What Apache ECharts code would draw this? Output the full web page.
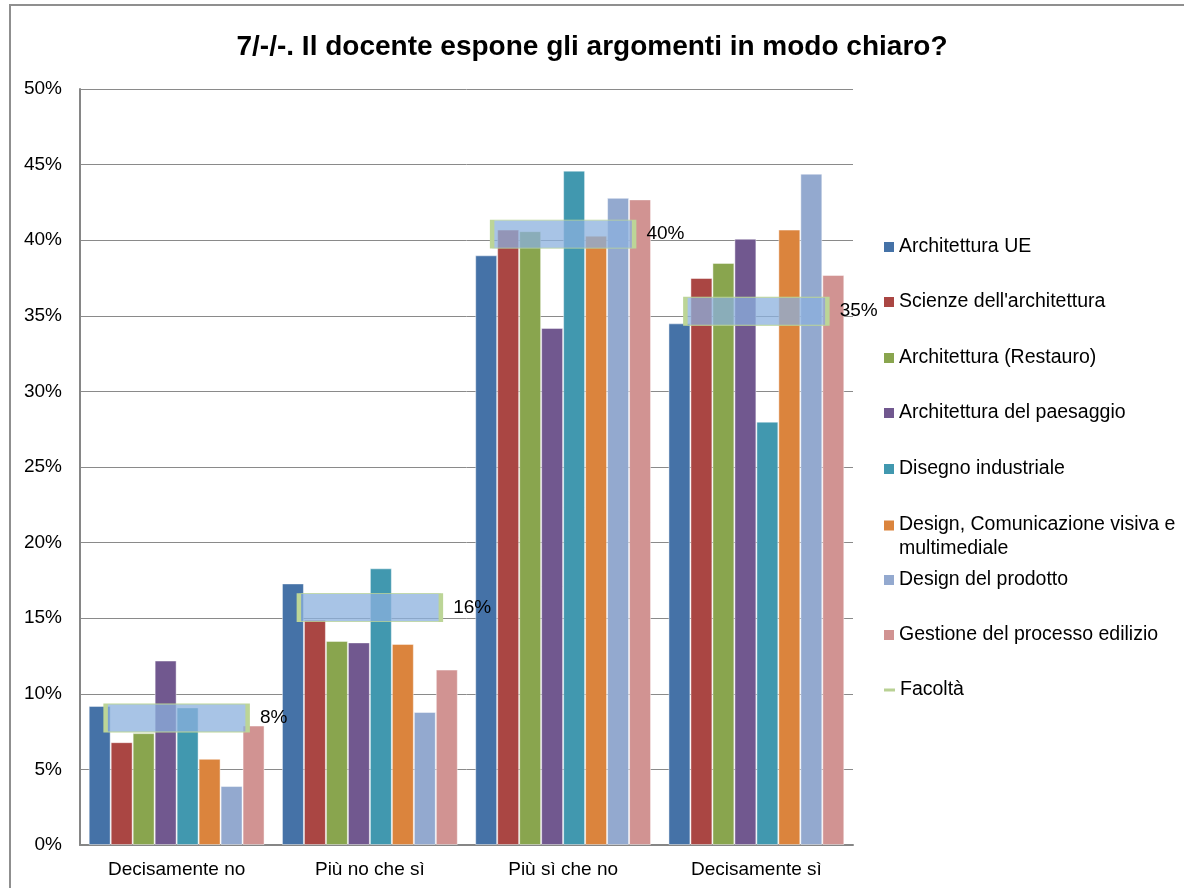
<!DOCTYPE html>
<html>
<head>
<meta charset="utf-8">
<script src="https://cdn.jsdelivr.net/npm/echarts@6/dist/echarts.min.js"></script>
<style>
  html, body { margin: 0; padding: 0; background: #fff; }
  #chart { width: 1184px; height: 888px; }
</style>
</head>
<body>
<div id="chart"></div>
<script>
const categories = ['Decisamente no', 'Più no che sì', 'Più sì che no', 'Decisamente sì']

const seriesNames = [
    'Architettura UE',
    "Scienze dell'architettura",
    'Architettura (Restauro)',
    'Architettura del paesaggio',
    'Disegno industriale',
    'Design, Comunicazione visiva e multimediale',
    'Design del prodotto',
    'Gestione del processo edilizio',
]
const seriesColors = ['#4572A7', '#AA4643', '#89A54E', '#71588F', '#4198AF', '#DB843D', '#93A9CF', '#D19392']

// percent values
const architetturaUE = [9.2, 17.3, 39.0, 34.5]
const scienzeArchitettura = [6.8, 14.9, 40.7, 37.5]
const architetturaRestauro = [7.4, 13.5, 40.6, 38.5]
const architetturaPaesaggio = [12.2, 13.4, 34.2, 40.1]
const disegnoIndustriale = [9.1, 18.3, 44.6, 28.0]
const designComunicazione = [5.7, 13.3, 40.3, 40.7]
const designProdotto = [3.9, 8.8, 42.8, 44.4]
const gestioneProcesso = [7.9, 11.6, 42.7, 37.7]

const facolta = [8.4, 15.7, 40.4, 35.3]

const allValues = [
    architetturaUE, scienzeArchitettura, architetturaRestauro, architetturaPaesaggio,
    disegnoIndustriale, designComunicazione, designProdotto, gestioneProcesso,
]

const yTicks = { min: 0, max: 50, interval: 5 }

const font = "'Liberation Sans', Arial, sans-serif"

const barSeries = seriesNames.map((name, i) => ({
    name: name,
    type: 'bar',
    data: allValues[i],
    barGap: '0%',
    barCategoryGap: '9%',
    itemStyle: {
        color: seriesColors[i],
        borderColor: 'rgba(255,255,255,0.45)',
        borderWidth: 1,
    },
    emphasis: { disabled: true },
}))

const facoltaSeries = {
    name: 'Facoltà',
    type: 'line',
    data: facolta,
    z: 5,
    lineStyle: { width: 0, opacity: 0 },
    symbol: 'rect',
    symbolSize: [142, 28],
    itemStyle: {
        color: 'rgba(139,176,222,0.75)',
        borderColor: '#bcd597',
        borderWidth: 2,
    },
    label: {
        show: true,
        position: 'right',
        distance: 10,
        fontSize: 19,
        fontFamily: font,
        color: '#000',
        formatter: (p) => Math.round(p.value) + '%',
    },
    emphasis: { disabled: true },
}

// legend item centres (px) on the right side
const legendY = [247, 302, 358, 413, 469, 525, 580, 635, 690]

// square icon that sits on the first line of a two-line legend text
const topSquare = 'path://M0,0L10,0L10,10L0,10Z M0,33L0.01,33'

const legends = seriesNames.map((name, i) => {
    const twoLines = name.indexOf('Design, ') === 0
    return {
        data: [{ name: name, icon: twoLines ? topSquare : 'rect', itemStyle: { borderWidth: 0 } }],
        orient: 'vertical',
        left: 884,
        top: twoLines ? legendY[i] - 12 : legendY[i] - 11,
        itemWidth: 10,
        itemHeight: twoLines ? 33 : 10,
        padding: 0,
        selectedMode: false,
        formatter: twoLines ? () => 'Design, Comunicazione visiva e\nmultimediale' : undefined,
        textStyle: { fontSize: 19.5, fontFamily: font, color: '#000', lineHeight: twoLines ? 24 : 22 },
    }
})
legends.push({
    data: [{ name: 'Facoltà', icon: 'rect', itemStyle: { color: '#b9d194', borderWidth: 0 } }],
    left: 884,
    top: legendY[8] - 11,
    itemWidth: 11,
    itemHeight: 3,
    padding: 0,
    selectedMode: false,
    textStyle: { fontSize: 19.5, fontFamily: font, color: '#000', lineHeight: 22 },
})

const option = {
    backgroundColor: '#fff',
    animation: false,
    title: {
        text: '7/-/-. Il docente espone gli argomenti in modo chiaro?',
        left: 'center',
        top: 33,
        padding: 0,
        textStyle: { fontSize: 28, fontWeight: 'bold', fontFamily: font, color: '#000' },
    },
    graphic: [
        {
            type: 'rect',
            shape: { x: 10, y: 5, width: 1190, height: 900 },
            style: { fill: 'none', stroke: '#8f8f8f', lineWidth: 2 },
            silent: true,
        },
    ],
    legend: legends,
    grid: { left: 80, right: 331, top: 89, bottom: 43 },
    xAxis: {
        type: 'category',
        data: categories,
        axisLine: { lineStyle: { color: '#868686', width: 2 } },
        axisTick: { show: false },
        axisLabel: { fontSize: 19, fontFamily: font, color: '#000', margin: 15 },
    },
    yAxis: {
        type: 'value',
        min: yTicks.min,
        max: yTicks.max,
        interval: yTicks.interval,
        axisLine: { show: true, lineStyle: { color: '#868686', width: 2 } },
        axisTick: { show: false },
        splitLine: { lineStyle: { color: '#8a8a8a', width: 1 } },
        axisLabel: { fontSize: 19, fontFamily: font, color: '#000', margin: 18, formatter: '{value}%' },
    },
    series: barSeries.concat([facoltaSeries]),
}

const chart = echarts.init(document.getElementById('chart'), null, { renderer: 'canvas' })
chart.setOption(option)
</script>
</body>
</html>
